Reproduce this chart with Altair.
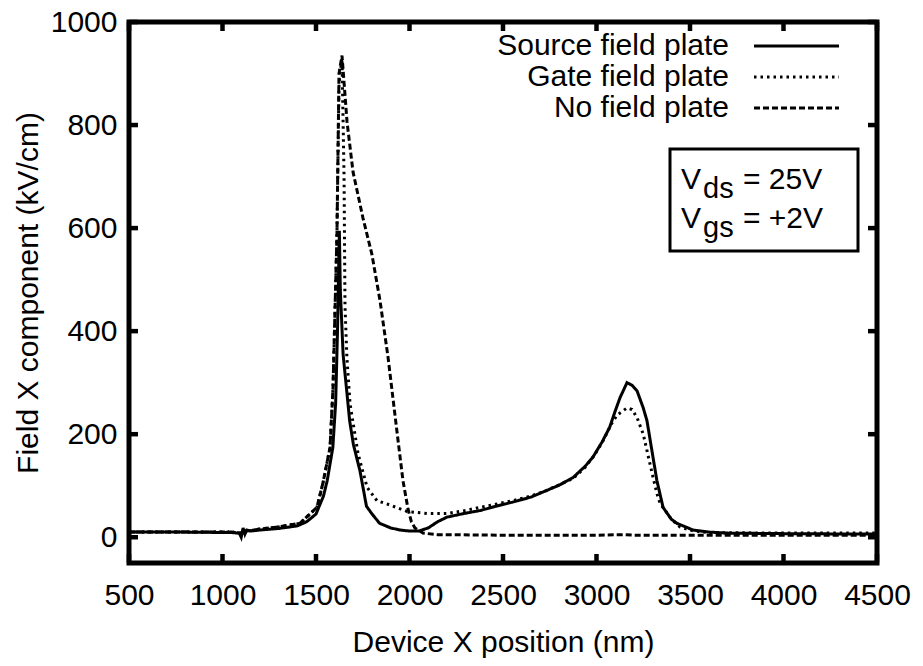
import altair as alt
import pandas as pd

# ---- data ----
src_x = [500, 800, 1050, 1090, 1100, 1110, 1120, 1130, 1150, 1200, 1300, 1400, 1450, 1500, 1540, 1560,
         1590, 1605, 1615, 1625, 1630, 1645, 1680, 1700, 1735, 1770, 1800, 1840, 1900, 1950, 2000, 2050,
         2100, 2150, 2200, 2290, 2380, 2460, 2550, 2650, 2735, 2800, 2875, 2940, 2980, 3030, 3070, 3100,
         3126, 3163, 3190, 3217, 3250, 3270, 3300, 3323, 3356, 3400, 3430, 3516, 3600, 3700, 4000, 4500]
src_y = [10, 10, 9, 8, 0, 18, 6, 14, 12, 14, 17, 22, 30, 45, 80, 110,
         174, 260, 400, 595, 480, 355, 226, 180, 129, 60, 45, 27, 18, 14, 12, 12,
         18, 30, 39, 46, 52, 60, 68, 78, 91, 101, 116, 138, 155, 185, 213, 245,
         271, 300, 295, 284, 251, 226, 160, 110, 58, 35, 27, 14, 10, 8, 7, 6]

gate_x = [500, 1050, 1100, 1110, 1150, 1200, 1300, 1414, 1505, 1537, 1575, 1591, 1612, 1623, 1639,
          1650, 1655, 1665, 1682, 1725, 1773, 1826, 1900, 1987, 2100, 2200, 2300, 2377, 2460, 2553,
          2650, 2735, 2875, 2940, 2990, 3035, 3080, 3110, 3163, 3190, 3217, 3250, 3270, 3300, 3323,
          3340, 3400, 3446, 3520, 3607, 4000, 4500]
gate_y = [10, 10, 8, 12, 13, 16, 20, 27, 58, 105, 174, 290, 587, 880, 930,
          700, 450, 350, 259, 162, 97, 71, 62, 50, 46, 46, 52, 58, 64, 71,
          80, 91, 114, 136, 160, 187, 220, 237, 251, 248, 232, 200, 168, 120, 85,
          66, 35, 20, 12, 9, 8, 8]

nofp_x = [500, 1050, 1100, 1110, 1150, 1200, 1300, 1414, 1505, 1537, 1575, 1591, 1612, 1623, 1639,
          1666, 1698, 1751, 1799, 1842, 1885, 1933, 1965, 1992, 2010, 2029, 2072, 2150, 2500, 3000,
          3150, 3200, 4000, 4500]
nofp_y = [10, 10, 8, 12, 13, 16, 20, 27, 58, 105, 174, 290, 587, 900, 935,
          806, 709, 620, 549, 460, 350, 205, 110, 55, 30, 18, 8, 5, 4, 4,
          5, 4, 4, 4]

series_names = ["Source field plate", "Gate field plate", "No field plate"]
x_ticks = [500, 1000, 1500, 2000, 2500, 3000, 3500, 4000, 4500]
y_ticks = [0, 200, 400, 600, 800, 1000]

FONT = "Liberation Sans"
W, H = 748, 541

df = pd.concat([
    pd.DataFrame({"x": src_x, "y": src_y, "s": series_names[0]}),
    pd.DataFrame({"x": gate_x, "y": gate_y, "s": series_names[1]}),
    pd.DataFrame({"x": nofp_x, "y": nofp_y, "s": series_names[2]}),
])

xs = alt.Scale(domain=[500, 4500], nice=False, zero=False)
ys = alt.Scale(domain=[-50, 1000], nice=False, zero=False)

dash_scale = alt.Scale(domain=series_names, range=[[1, 0], [2.5, 4], [6, 3]])

lines = alt.Chart(df).mark_line(color="black", strokeWidth=3, clip=True).encode(
    x=alt.X("x:Q", scale=xs, axis=alt.Axis(values=x_ticks, format="d", title="Device X position (nm)",
                                            labelPadding=17, titlePadding=17, labelOverlap=False,
                                            labelFlush=False)),
    y=alt.Y("y:Q", scale=ys, axis=alt.Axis(values=y_ticks, format="d", title="Field X component (kV/cm)",
                                            labelPadding=12, titlePadding=7, labelOverlap=False,
                                            labelFlush=False)),
    strokeDash=alt.StrokeDash("s:N", scale=dash_scale, legend=None),
    detail="s:N",
    order=alt.Order("x:Q"),
)

# inward tick marks on all four sides
xt = pd.DataFrame({"v": x_ticks})
yt = pd.DataFrame({"v": y_ticks})
TL = 9
tick_bottom = alt.Chart(xt).mark_rule(color="black", strokeWidth=4.5).encode(
    x=alt.X("v:Q", scale=xs), y=alt.value(H), y2=alt.value(H - TL))
tick_top = alt.Chart(xt).mark_rule(color="black", strokeWidth=4.5).encode(
    x=alt.X("v:Q", scale=xs), y=alt.value(0), y2=alt.value(TL))
tick_left = alt.Chart(yt).mark_rule(color="black", strokeWidth=4.5).encode(
    y=alt.Y("v:Q", scale=ys), x=alt.value(0), x2=alt.value(TL))
tick_right = alt.Chart(yt).mark_rule(color="black", strokeWidth=4.5).encode(
    y=alt.Y("v:Q", scale=ys), x=alt.value(W), x2=alt.value(W - TL))

# legend (labels left of samples)
leg_y = [24, 55, 86]
leg_dash = [[1, 0], [2.5, 4], [6, 3]]
legend_layers = []
one = pd.DataFrame({"a": [0]})
for name, yy, dsh in zip(series_names, leg_y, leg_dash):
    legend_layers.append(alt.Chart(one).mark_text(
        align="right", baseline="middle", font=FONT, fontSize=30, color="black").encode(
        x=alt.value(600), y=alt.value(yy), text=alt.value(name)))
    legend_layers.append(alt.Chart(one).mark_rule(color="black", strokeWidth=3, strokeDash=dsh).encode(
        x=alt.value(625), x2=alt.value(710), y=alt.value(yy)))

# annotation box
box = alt.Chart(one).mark_rect(filled=False, stroke="black", strokeWidth=3).encode(
    x=alt.value(541), x2=alt.value(729), y=alt.value(127), y2=alt.value(229))
ann = []
for main, sub, rest, yb in [("V", "ds", "= 25V", 167), ("V", "gs", "= +2V", 206)]:
    ann.append(alt.Chart(one).mark_text(align="left", baseline="alphabetic", font=FONT, fontSize=30,
                                        color="black").encode(x=alt.value(552), y=alt.value(yb), text=alt.value(main)))
    ann.append(alt.Chart(one).mark_text(align="left", baseline="alphabetic", font=FONT, fontSize=29,
                                        color="black").encode(x=alt.value(574), y=alt.value(yb + 9), text=alt.value(sub)))
    ann.append(alt.Chart(one).mark_text(align="left", baseline="alphabetic", font=FONT, fontSize=30,
                                        color="black").encode(x=alt.value(614), y=alt.value(yb), text=alt.value(rest)))

chart = alt.layer(lines, tick_bottom, tick_top, tick_left, tick_right, *legend_layers, box, *ann).properties(
    width=W, height=H,
    autosize=alt.AutoSizeParams(type="none"),
    padding={"left": 121, "top": 14, "right": 38, "bottom": 100},
    background="white",
).configure_view(
    stroke="black", strokeWidth=5
).configure_axis(
    domain=False, ticks=False, tickSize=0, grid=False,
    labelFont=FONT, labelFontSize=30, labelColor="black",
    titleFont=FONT, titleFontSize=30, titleFontWeight="normal", titleColor="black",
)

chart.save("out.html", embed_options={"renderer": "svg", "actions": False})
